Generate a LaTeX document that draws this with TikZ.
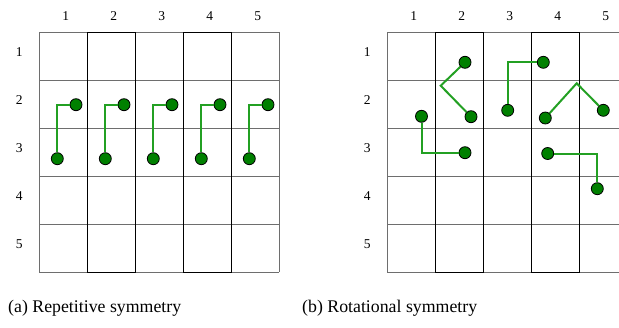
\documentclass[tikz,border=0pt]{standalone}
\usepackage{fontspec}
\setmainfont{LiberationSerif}[Extension=.ttf, UprightFont=*-Regular]
\usepackage{tikz}
\usepackage{xcolor}
\definecolor{dotgreen}{HTML}{008000}
\definecolor{linkgreen}{HTML}{23A023}
\definecolor{cellgray}{HTML}{6E6E6E}

\begin{document}
\begin{tikzpicture}[x=1pt, y=-1pt,
  mono/.style={circle, draw=black, fill=dotgreen, line width=0.8pt, inner sep=0pt, minimum size=12pt},
  link/.style={linkgreen, line width=2pt},
  idx/.style={font=\rmfamily\fontsize{13.5}{15}\selectfont},
  caption/.style={anchor=west, inner sep=0pt, font=\rmfamily\fontsize{17.8}{20}\selectfont}]
\useasboundingbox (0,0) rectangle (619,327);
\clip (0,0) rectangle (619,327);
% lattice (a) and (b)
\foreach \g in {39.3,387.3} {
  \foreach \k in {0,...,5} {
    \draw[cellgray, line width=1.2pt] (\g,32.3+48*\k) -- (\g+240,32.3+48*\k);
    \draw[cellgray, line width=1pt] (\g+48*\k,32.3) -- (\g+48*\k,272.3);
  }
  \draw[line width=1pt] (\g+48,32.3) rectangle (\g+96,272.3);
  \draw[line width=1pt] (\g+144,32.3) rectangle (\g+192,272.3);
}
% indices
\foreach \i in {1,...,5} {
  \node[idx] (ca\i) at (65.8+48*\i-48,16) {\i};
  \node[idx] (ra\i) at (19.3,51.8+48*\i-48) {\i};
  \node[idx] (cb\i) at (413.8+48*\i-48,16) {\i};
  \node[idx] (rb\i) at (367.3,51.8+48*\i-48) {\i};
}
% (a) repeated chains
\foreach \i in {1,...,5} {
  \node[mono] (a\i) at (57.3+48*\i-48,158.7) {};
  \node[mono] (b\i) at (76+48*\i-48,104.7) {};
  \draw[link] (a\i) |- (b\i);
}
% (b) rotated chains
\node[mono] (p1) at (465,62.3) {};
\node[mono] (p2) at (471,116.7) {};
\coordinate (k1) at (440.7,85.7);
\draw[link] (p1) -- (k1) -- (p2);
\node[mono] (p3) at (421.5,116.3) {};
\node[mono] (p4) at (465,152.7) {};
\draw[link] (p3) |- (p4);
\node[mono] (p5) at (507.7,110.3) {};
\node[mono] (p6) at (543.3,62.3) {};
\draw[link] (p5) |- (p6);
\node[mono] (p7) at (545.3,118) {};
\node[mono] (p8) at (603.3,110.3) {};
\coordinate (k2) at (576.7,83.3);
\draw[link] (p7) -- (k2) -- (p8);
\node[mono] (p9) at (547.7,153.5) {};
\node[mono] (p10) at (597.3,188.7) {};
\draw[link] (p9) -| (p10);
% captions
\node[caption] (capa) at (8,308) {(a) Repetitive symmetry};
\node[caption] (capb) at (302,308) {(b) Rotational symmetry};
\end{tikzpicture}
\end{document}
